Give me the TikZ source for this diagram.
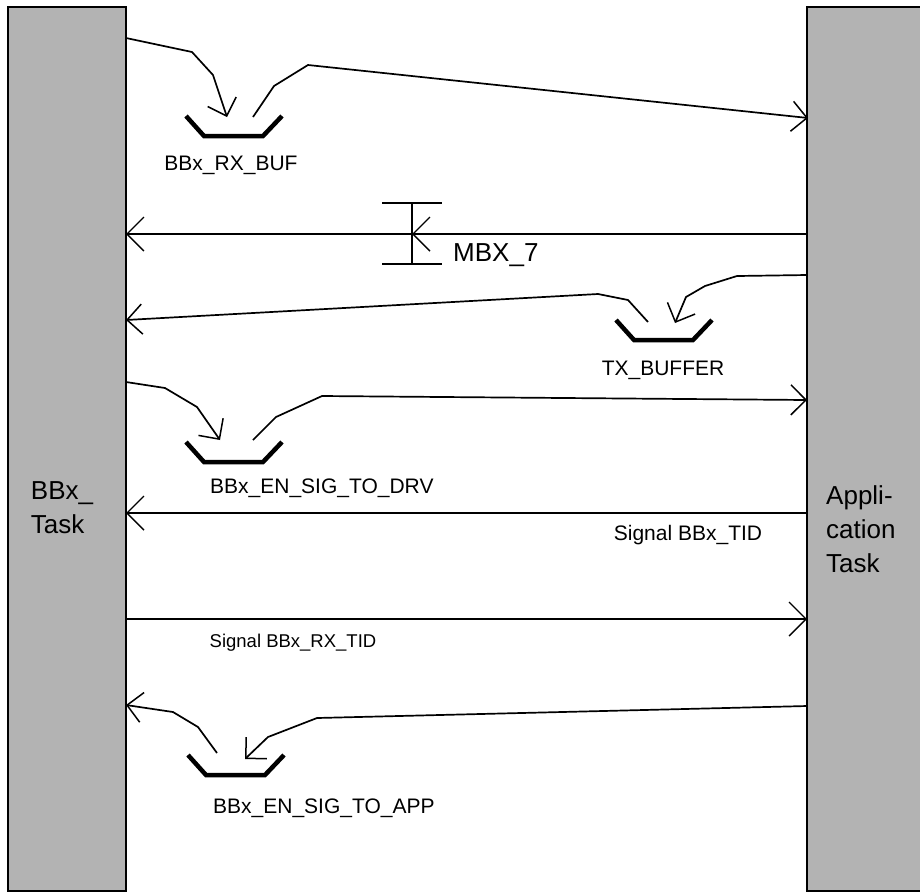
\documentclass[tikz,border=0pt]{standalone}
\usepackage{fontspec}
\setmainfont{Liberation Sans}
\usetikzlibrary{arrows.meta}
\definecolor{bargray}{RGB}{179,179,179}
\tikzset{
  bar/.style={draw=black, line width=1.6pt, fill=bargray, minimum width=118pt, minimum height=884pt, inner sep=0pt, outer sep=0pt},
  conn/.style={line width=1.7pt, line join=miter, -{Straight Barb[length=15pt,width=30pt,line width=1.5pt]}},
  plain/.style={line width=1.7pt},
  hline/.style={line width=1.4pt, -{Straight Barb[length=17pt,width=34pt,line width=1.4pt]}},
  buf/.style={line width=4.5pt, line join=miter, line cap=butt},
  lbl/.style={font=\fontsize{21}{25}\selectfont, inner sep=0pt},
  biglbl/.style={font=\fontsize{26}{34}\selectfont, inner sep=0pt, align=left},
  bufshape/.pic={\draw[buf] (-48,-10) -- (-30,10) -- (29,10) -- (48,-10);}
}
\begin{document}
\begin{tikzpicture}[x=1pt,y=-1pt]
\useasboundingbox (0,0) rectangle (920,892);
\clip (0,0) rectangle (920,892);
% bars
\node[bar] (bbx) at (67,449) {};
\node[bar] (app) at (866,449) {};
\node[biglbl] (bbxtxt) at (62,508) {BBx\_\\Task};
\node[biglbl, anchor=west] (apptxt) at (826,529) {Appli-\\cation\\Task};
% buffers
\pic (rxbuf) at (234,126) {bufshape};
\pic (txbuf) at (664,330) {bufshape};
\pic (drvbuf) at (234,452) {bufshape};
\pic (appbuf) at (236,765) {bufshape};
% labels
\node[lbl] (rxl) at (231,165) {BBx\_RX\_BUF};
\node[lbl] (txl) at (663,370) {TX\_BUFFER};
\node[lbl, anchor=west] (drvl) at (210,488) {BBx\_EN\_SIG\_TO\_DRV};
\node[lbl] (tidl) at (688,535) {Signal BBx\_TID};
\node[lbl, font=\fontsize{18.5}{22}\selectfont] (rxtidl) at (293,643) {Signal BBx\_RX\_TID};
\node[lbl, anchor=west] (appl) at (213,808) {BBx\_EN\_SIG\_TO\_APP};
\node[lbl, font=\fontsize{26}{30}\selectfont, anchor=west] (mbxl) at (453,255) {MBX\_7};
% coordinates
\coordinate (c1s) at (126,38);   \coordinate (c1e) at (227,117);
\coordinate (c2s) at (253,117);  \coordinate (c2e) at (808,118);
\coordinate (c3s) at (807,234);  \coordinate (mbx) at (412,234); \coordinate (c3e) at (126,234);
\coordinate (c4s) at (807,275);  \coordinate (c4e) at (675,323);
\coordinate (c5s) at (648,322);  \coordinate (c5e) at (126,320);
\coordinate (c6s) at (126,382);  \coordinate (c6e) at (220,440);
\coordinate (c7s) at (253,440);  \coordinate (c7e) at (807,400);
\coordinate (c8s) at (807,513);  \coordinate (c8e) at (126,513);
\coordinate (c9s) at (126,619);  \coordinate (c9e) at (807,619);
\coordinate (c10s) at (217,753); \coordinate (c10e) at (126,705);
\coordinate (c11s) at (807,706); \coordinate (c11e) at (245,759);
% MBX symbol
\draw[plain] (382,203) -- (442,203);
\draw[plain] (382,264) -- (442,264);
\draw[plain] (412,203) -- (412,264);
% connectors
\draw[conn] (c1s) -- (192,52) -- (213,75) -- (c1e);
\draw[conn] (c2s) -- (274,86) -- (308,65) -- (c2e);
\draw[hline] (c3s) -- (mbx);
\draw[hline] (mbx) -- (c3e);
\draw[conn] (c4s) -- (737,276) -- (705,286) -- (686,297) -- (c4e);
\draw[conn] (c5s) -- (628,300) -- (598,294) -- (c5e);
\draw[conn] (c6s) -- (165,388) -- (197,407) -- (c6e);
\draw[conn] (c7s) -- (276,417) -- (322,396) -- (c7e);
\draw[hline] (c8s) -- (c8e);
\draw[hline] (c9s) -- (c9e);
\draw[conn] (c10s) -- (198,727) -- (173,712) -- (c10e);
\draw[conn] (c11s) -- (317,718) -- (268,737) -- (c11e);
\end{tikzpicture}
\end{document}
